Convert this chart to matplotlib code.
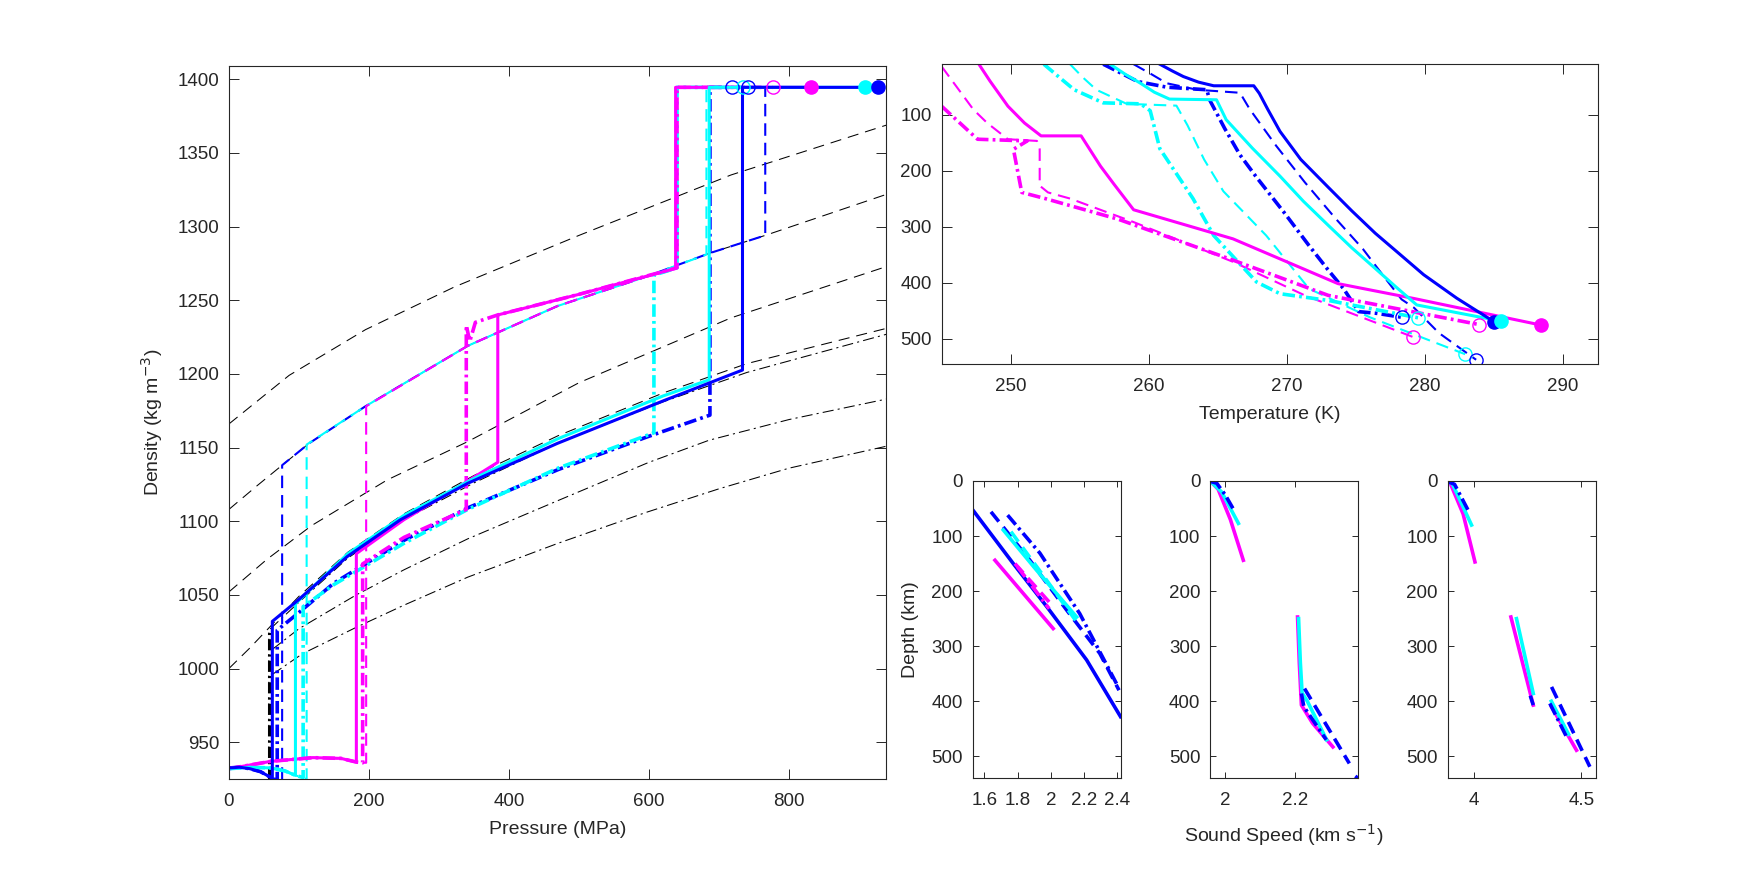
import matplotlib
matplotlib.use('Agg')
import matplotlib.pyplot as plt

plt.rcParams['font.family'] = ['Liberation Sans', 'DejaVu Sans']
plt.rcParams['lines.scale_dashes'] = False

BLUE, CYAN, MAGENTA = '#0000ff', '#00ffff', '#ff00ff'
INK = '#262626'

# ---------------- density vs pressure (MPa, kg m^-3) ----------------
ref_dash_1 = [(0, 1166), (86, 1199), (195, 1230), (322, 1259), (500, 1294), (717, 1335), (940, 1369)]
ref_dash_2 = [(0, 1108), (40, 1124), (76, 1138), (115, 1153), (195, 1178), (341, 1219), (469, 1246),
              (596, 1266), (687, 1282), (766, 1294), (940, 1322)]
ref_dash_3 = [(0, 1052), (54, 1074), (118, 1097), (226, 1128), (341, 1154), (500, 1194), (717, 1238), (940, 1273)]
ref_dash_4 = [(0, 1000), (30, 1014), (62, 1030), (100, 1049), (170, 1079), (250, 1105), (350, 1131),
              (470, 1158), (620, 1187), (740, 1207), (940, 1231)]
ref_dashdot_1 = [(57, 925), (57, 1026), (100, 1045), (170, 1075), (250, 1101), (350, 1126), (470, 1153),
                 (620, 1181), (740, 1201), (940, 1227)]
ref_dashdot_2 = [(62, 1013), (100, 1027), (182, 1050), (250, 1067), (341, 1088), (470, 1114), (600, 1140),
                 (686, 1155), (800, 1169), (940, 1183)]
ref_dashdot_3 = [(62, 996), (105, 1010), (182, 1028), (250, 1043), (341, 1062), (470, 1085), (596, 1106),
                 (700, 1122), (800, 1136), (940, 1151)]

blue_solid_rho = [(0, 932.5), (15, 933), (30, 932), (45, 930), (62, 925.5), (62, 1032), (99, 1046.5),
                  (169, 1076), (245, 1101), (341, 1125.7), (469, 1152.8), (622, 1182), (733.5, 1202.6),
                  (733.5, 1394.5), (927, 1394.5)]
blue_dash_rho = [(0, 932.5), (15, 933), (30, 932), (45, 930), (62, 925.5), (76, 923), (76, 1138), (115, 1153),
                 (195, 1178), (341, 1219), (469, 1246), (596, 1266), (687, 1282), (766, 1294), (766, 1394.5),
                 (940, 1394.5)]
blue_dashdot_rho = [(0, 932.5), (15, 933), (30, 932), (45, 930), (62, 925.5), (69, 924), (69, 1026),
                    (100, 1038), (150, 1058), (250, 1087), (341, 1109), (470, 1135), (596, 1157), (687, 1172),
                    (687, 1394.5), (719, 1394.5)]
cyan_solid_rho = [(0, 932), (30, 933), (60, 932.5), (80, 930.5), (95, 927.5), (95, 1044), (170, 1078),
                  (250, 1104), (350, 1129), (470, 1156), (620, 1185), (686, 1196), (686, 1394.5), (908, 1394.5)]
cyan_dash_rho = [(0, 932), (30, 933), (60, 932.5), (80, 930.5), (95, 927.5), (111, 925), (111, 1152),
                 (195, 1178), (341, 1219), (469, 1246), (596, 1266), (682, 1281), (682, 1394.5), (940, 1394.5)]
cyan_dashdot_rho = [(0, 932), (30, 933), (60, 932.5), (80, 930.5), (95, 927.5), (106, 926), (106, 1042),
                    (150, 1057), (250, 1085), (341, 1108), (470, 1136), (607, 1160), (607, 1267), (640, 1272),
                    (640, 1394.5), (734, 1394.5)]
magenta_solid_rho = [(0, 932), (60, 937), (120, 939.5), (160, 939), (182, 936.5), (182, 1078), (250, 1101),
                     (320, 1121), (384, 1140), (384, 1240), (500, 1254), (638, 1271.6), (638, 1394.5),
                     (832, 1394.5)]
magenta_dash_rho = [(0, 932), (60, 937), (120, 939.5), (160, 939), (182, 936.5), (196, 936), (196, 1178),
                    (341, 1219), (469, 1246), (596, 1266), (638, 1271), (638, 1394.5), (742, 1394.5)]
magenta_dashdot_rho = [(0, 932), (60, 937), (120, 939.5), (160, 939), (182, 936.5), (191, 936), (191, 1071),
                       (250, 1089), (339, 1108), (339, 1233), (344, 1222), (352, 1235), (384, 1240),
                       (500, 1254), (640, 1272), (640, 1394.5), (777, 1394.5)]

# end-of-profile markers: (pressure, density, colour, filled)
rho_markers = [(719, 1394.5, BLUE, False), (734, 1394.5, CYAN, False), (742, 1394.5, BLUE, False),
               (777, 1394.5, MAGENTA, False), (832, 1394.5, MAGENTA, True), (908, 1394.5, CYAN, True),
               (927, 1394.5, BLUE, True)]

# ---------------- temperature (K) vs depth (km) ----------------
blue_solid_T = [(260.8, 10), (261.7, 22), (262.5, 32), (263.6, 42), (264.7, 48.5), (267.6, 48.5), (268.0, 62),
                (268.6, 90), (269.5, 130), (271.0, 180), (273.0, 230), (274.7, 272), (276.4, 312),
                (278.2, 350), (279.9, 386), (282.3, 428), (285.0, 470)]
blue_dash_T = [(258.9, 10), (260.2, 28), (261.3, 44), (263.5, 55.6), (266.6, 61), (267.3, 90), (269.2, 155),
               (271.3, 221), (273.5, 285), (275.5, 340), (277.2, 395), (278.3, 430), (279.2, 445),
               (281.0, 490), (283.7, 538)]
blue_dashdot_T = [(256.7, 10), (258.0, 26), (259.2, 41), (261.3, 51), (264.2, 55.6), (264.4, 73.5),
                  (265.5, 125), (266.6, 172), (267.8, 212), (269.8, 275), (271.6, 334), (273.0, 378),
                  (274.1, 411), (275.2, 452), (276.5, 455), (278.3, 462)]
cyan_solid_T = [(257.2, 10), (258.3, 28), (259.4, 44), (260.4, 60), (261.5, 72.3), (264.9, 73.5),
                (265.6, 109), (267.5, 160), (269.5, 210), (271.2, 255), (273.0, 298), (274.7, 338),
                (276.4, 375), (277.9, 408), (279.4, 440), (285.5, 469)]
cyan_dash_T = [(254.3, 10), (255.2, 33), (256.2, 55.6), (258.4, 80.8), (262.0, 84), (262.8, 119),
               (264.0, 180), (265.4, 237), (268.5, 316), (271.6, 411), (276.0, 462), (282.9, 528)]
cyan_dashdot_T = [(252.4, 10), (253.5, 33), (254.6, 55.6), (256.7, 79), (259.4, 80.8), (260.1, 93),
                  (260.8, 161), (263.2, 250), (264.7, 316), (267.8, 399), (269.5, 420), (273.0, 432),
                  (279.5, 463)]
magenta_solid_T = [(247.7, 10), (248.5, 40), (249.8, 85), (251.0, 115), (252.2, 138), (255.1, 138),
                   (256.5, 192), (257.5, 225), (258.9, 270), (266.1, 322), (273.7, 402), (279.3, 429),
                   (288.4, 476)]
magenta_dash_T = [(245.0, 14), (247.3, 91), (248.3, 115), (249.8, 144), (251.9, 147), (252.1, 162),
                  (252.1, 227), (252.7, 239), (254.3, 250), (258.9, 292), (266.1, 363), (271.3, 423),
                  (279.1, 497)]
magenta_dashdot_T = [(245.0, 85), (247.6, 144), (251.2, 147), (250.2, 162), (250.8, 239), (252.5, 250),
                     (257.8, 287), (266.1, 360), (273.0, 423), (283.9, 475)]

T_markers = [(285.0, 470, BLUE, True), (285.5, 469, CYAN, True), (288.4, 476, MAGENTA, True),
             (278.3, 462, BLUE, False), (279.5, 463, CYAN, False), (283.9, 475, MAGENTA, False),
             (279.1, 497, MAGENTA, False), (282.9, 528, CYAN, False), (283.7, 538, BLUE, False)]

# ---------------- sound speeds (km/s) vs depth (km) ----------------
# panel 1: ocean
vp_ocean = {
    ('blue', '-'): [[(1.534, 54), (1.774, 150), (1.975, 228), (2.215, 325), (2.419, 428)]],
    ('blue', '--'): [[(1.64, 56), (1.874, 144), (2.094, 234), (2.294, 313), (2.41, 380)]],
    ('blue', '-.'): [[(1.74, 62), (1.934, 131), (2.174, 241), (2.40, 371)]],
    ('cyan', '-'): [[(1.714, 89), (1.914, 162), (2.155, 247)]],
    ('cyan', '--'): [[(1.76, 92), (1.95, 170), (2.17, 262)]],
    ('magenta', '-'): [[(1.664, 144), (2.014, 268)]],
    ('magenta', '--'): [[(1.784, 150), (2.014, 228)]],
    ('magenta', '-.'): [[(1.80, 156), (1.99, 232)]],
}
# panel 2: ice shear speed
vs_ice = {
    ('magenta', '-'): [[(1.959, 1), (1.98, 15), (2.015, 70), (2.052, 144)],
                       [(2.207, 247), (2.212, 330), (2.218, 407), (2.25, 440), (2.308, 483)]],
    ('cyan', '-'): [[(1.959, 1), (1.99, 20), (2.038, 77)],
                    [(2.21, 250), (2.215, 330), (2.22, 385), (2.235, 400), (2.29, 470)]],
    ('blue', '-.'): [[(1.959, 1), (1.976, 4), (2.0, 25), (2.028, 56)],
                     [(2.218, 386), (2.225, 410), (2.289, 470)]],
    ('blue', '--'): [[(2.227, 377), (2.355, 513)], [(2.372, 536), (2.38, 540)]],
}
# panel 3: ice compressional speed
vp_ice = {
    ('magenta', '-'): [[(3.889, 3), (3.95, 60), (4.005, 147)],
                       [(4.172, 247), (4.276, 407)],
                       [(4.361, 410), (4.477, 489)]],
    ('cyan', '-'): [[(3.878, 1), (3.90, 5), (3.989, 80)],
                    [(4.198, 250), (4.276, 386)],
                    [(4.36, 400), (4.44, 460)]],
    ('blue', '-.'): [[(3.878, 1), (3.91, 6), (3.977, 56)],
                     [(4.262, 390), (4.276, 407)],
                     [(4.353, 404), (4.431, 465)]],
    ('blue', '--'): [[(4.361, 374), (4.539, 519)]],
}

COLORS = {'blue': BLUE, 'cyan': CYAN, 'magenta': MAGENTA}
STYLE = {
    '-': dict(linestyle='-'),
    '--': dict(dashes=(9, 5)),
    '-.': dict(dashes=(9, 3, 2, 3)),
}


def xy(points):
    x, y = zip(*points)
    return list(x), list(y)


def style_axes(ax, tick_len):
    ax.tick_params(direction='in', top=True, right=True, length=tick_len, width=0.7,
                   colors=INK, labelsize=13.5)
    ax.tick_params(axis='x', pad=10)
    ax.tick_params(axis='y', pad=7)
    for sp in ax.spines.values():
        sp.set_color(INK)
        sp.set_linewidth(0.8)


fig = plt.figure(figsize=(17.65, 8.75), dpi=100)

# main: density vs pressure
ax = fig.add_axes([0.1297, 0.1097, 0.3721, 0.8149])
for ref in (ref_dash_1, ref_dash_2, ref_dash_3, ref_dash_4):
    ax.plot(*xy(ref), color='k', lw=0.75, dashes=(8, 5))
for ref in (ref_dashdot_1, ref_dashdot_2, ref_dashdot_3):
    ax.plot(*xy(ref), color='k', lw=0.75, dashes=(8, 3, 1.5, 3))
ax.plot([57, 57], [925, 1026], color='k', lw=2.2, dashes=(8, 3, 1.5, 3))

rho_curves = [
    (blue_dash_rho, BLUE, '--', 1.5), (cyan_dash_rho, CYAN, '--', 1.5), (magenta_dash_rho, MAGENTA, '--', 1.5),
    (blue_dashdot_rho, BLUE, '-.', 2.6), (cyan_dashdot_rho, CYAN, '-.', 2.6),
    (magenta_dashdot_rho, MAGENTA, '-.', 2.6),
    (magenta_solid_rho, MAGENTA, '-', 2.2), (cyan_solid_rho, CYAN, '-', 2.2), (blue_solid_rho, BLUE, '-', 2.2),
]
for pts, col, ls, lw in rho_curves:
    ax.plot(*xy(pts), color=col, lw=lw, **STYLE[ls])
for p, r, col, filled in rho_markers:
    ax.plot(p, r, 'o', ms=9.5, mec=col, mfc=col if filled else 'none', mew=1.0, clip_on=False)

ax.set_xlim(0, 938)
ax.set_ylim(925, 1409)
ax.set_xticks([0, 200, 400, 600, 800])
ax.set_yticks(range(950, 1401, 50))
ax.set_xlabel('Pressure (MPa)', fontsize=14, color=INK, labelpad=8)
ax.set_ylabel('Density (kg m$^{-3}$)', fontsize=14, color=INK, labelpad=9)
style_axes(ax, 7)

# top right: temperature vs depth
axT = fig.add_axes([0.5335, 0.5837, 0.3717, 0.3429])
T_curves = [
    (blue_dash_T, BLUE, '--', 1.5), (cyan_dash_T, CYAN, '--', 1.5), (magenta_dash_T, MAGENTA, '--', 1.5),
    (blue_dashdot_T, BLUE, '-.', 2.6), (cyan_dashdot_T, CYAN, '-.', 2.6), (magenta_dashdot_T, MAGENTA, '-.', 2.6),
    (magenta_solid_T, MAGENTA, '-', 2.2), (cyan_solid_T, CYAN, '-', 2.2), (blue_solid_T, BLUE, '-', 2.2),
]
for pts, col, ls, lw in T_curves:
    axT.plot(*xy(pts), color=col, lw=lw, **STYLE[ls])
for t, d, col, filled in T_markers:
    axT.plot(t, d, 'o', ms=9.5, mec=col, mfc=col if filled else 'none', mew=1.0)
axT.set_xlim(245, 292.5)
axT.set_ylim(546, 10)
axT.set_xticks([250, 260, 270, 280, 290])
axT.set_yticks([100, 200, 300, 400, 500])
axT.set_xlabel('Temperature (K)', fontsize=14, color=INK, labelpad=8)
style_axes(axT, 7)

# bottom right: sound speeds
panels = [
    (0.5511, vp_ocean, (1.53, 2.42), [1.6, 1.8, 2.0, 2.2, 2.4], ['1.6', '1.8', '2', '2.2', '2.4']),
    (0.6856, vs_ice, (1.957, 2.38), [2.0, 2.2], ['2', '2.2']),
    (0.8202, vp_ice, (3.878, 4.566), [4.0, 4.5], ['4', '4.5']),
]
small_axes = []
for left, series, xlim, ticks, labels in panels:
    a = fig.add_axes([left, 0.1105, 0.08385, 0.3398])
    for (cname, ls), segs in series.items():
        for seg in segs:
            a.plot(*xy(seg), color=COLORS[cname], lw=2.6, **STYLE[ls])
    a.set_xlim(*xlim)
    a.set_ylim(540, 0)
    a.set_xticks(ticks)
    a.set_xticklabels(labels)
    a.set_yticks([0, 100, 200, 300, 400, 500])
    style_axes(a, 4)
    small_axes.append(a)

small_axes[0].set_ylabel('Depth (km)', fontsize=14, color=INK, labelpad=9)
small_axes[1].set_xlabel('Sound Speed (km s$^{-1}$)', fontsize=14, color=INK, labelpad=9)

fig.savefig('out.png', dpi=100, facecolor='white')
